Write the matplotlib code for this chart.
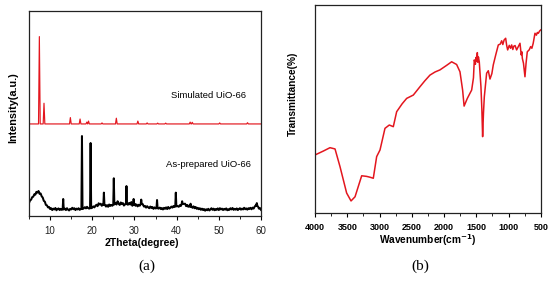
import numpy as np
import matplotlib
matplotlib.use('Agg')
import matplotlib.pyplot as plt
from matplotlib.ticker import MultipleLocator

# (a) XRD - simulated pattern: flat baseline plus peaks (2theta, intensity)
sim_base = 44.9
sim_pos = [7.45, 8.55, 14.8, 17.1, 18.7, 19.1, 22.3, 25.7, 30.8, 33.0, 35.5, 37.4, 43.2, 43.7, 50.2, 56.8]
sim_top = [87.5, 55.0, 48.0, 47.3, 45.8, 46.3, 45.4, 47.7, 46.3, 45.4, 45.3, 45.3, 45.8, 45.7, 45.4, 45.5]

# (a) XRD - as-prepared pattern: noisy background (2theta, intensity) ...
bg_points = [
    (5.0, 6.4), (5.25, 7.6), (5.5, 8.0), (5.75, 9.2), (6.0, 9.4), (6.25, 10.6), (6.5, 10.4),
    (6.75, 11.8), (7.0, 11.4), (7.25, 12.2), (7.5, 10.8), (7.75, 11.0), (8.0, 9.6), (8.25, 9.0),
    (8.5, 7.4), (8.75, 7.0), (9.0, 5.4), (9.25, 5.2), (9.5, 4.2), (9.75, 4.4), (10.0, 3.4),
    (10.25, 3.8), (10.5, 2.9), (10.75, 3.6), (11.0, 3.2), (11.25, 3.9), (11.5, 2.8), (11.75, 3.4),
    (12.0, 3.7), (12.25, 2.9), (12.5, 3.5), (12.75, 3.0), (13.5, 3.6), (13.75, 2.9), (14.0, 3.8),
    (14.25, 3.1), (14.5, 2.7), (14.75, 3.5), (15.0, 3.2), (15.25, 4.0), (15.5, 3.3), (15.75, 3.8),
    (16.0, 2.9), (16.25, 3.6), (16.5, 3.2), (16.75, 3.8), (17.0, 3.0), (17.25, 3.4), (17.9, 3.6),
    (18.25, 4.3), (18.5, 3.7), (18.75, 4.5), (19.0, 3.9), (19.25, 3.6), (19.95, 4.0), (20.25, 4.7),
    (20.5, 4.2), (20.75, 5.0), (21.0, 5.5), (21.25, 4.8), (21.5, 6.2), (21.75, 5.6), (22.0, 6.0),
    (22.25, 5.0), (22.5, 5.6), (23.1, 5.2), (23.25, 4.6), (23.5, 5.3), (23.75, 4.5), (24.0, 5.6),
    (24.25, 4.9), (24.5, 5.4), (24.75, 5.0), (25.45, 6.4), (25.75, 5.6), (26.0, 7.2), (26.25, 6.0),
    (26.5, 5.4), (26.75, 6.6), (27.0, 5.8), (27.25, 6.3), (27.5, 5.1), (27.75, 5.7), (28.45, 5.5),
    (28.75, 6.4), (29.0, 5.6), (29.25, 6.8), (29.5, 5.0), (30.1, 5.9), (30.25, 5.0), (30.5, 5.6),
    (30.75, 4.7), (31.0, 5.5), (31.25, 5.0), (31.95, 5.8), (32.25, 4.6), (32.5, 4.9), (32.75, 4.1),
    (33.0, 4.8), (33.25, 4.2), (33.5, 3.8), (33.75, 4.6), (34.0, 3.9), (34.25, 4.4), (34.5, 3.5),
    (34.75, 4.2), (35.0, 3.7), (35.7, 3.6), (36.0, 4.1), (36.25, 3.4), (36.5, 3.9), (36.75, 3.2),
    (37.0, 4.0), (37.25, 3.5), (37.5, 4.2), (37.75, 3.4), (38.0, 4.4), (38.25, 3.6), (38.5, 4.0),
    (38.75, 4.6), (39.0, 4.1), (39.25, 4.9), (39.5, 4.4), (40.15, 4.9), (40.5, 4.5), (40.75, 5.3),
    (41.0, 4.9), (41.65, 5.9), (42.0, 6.0), (42.25, 4.8), (42.5, 5.4), (42.75, 4.5), (43.0, 5.1),
    (43.6, 4.6), (43.75, 4.0), (44.0, 4.7), (44.25, 3.8), (44.5, 4.4), (44.75, 3.5), (45.0, 4.0),
    (45.25, 3.3), (45.5, 3.8), (45.75, 3.0), (46.0, 3.6), (46.25, 2.9), (46.5, 3.4), (46.75, 2.6),
    (47.0, 3.3), (47.25, 2.8), (47.5, 3.5), (47.75, 2.7), (48.0, 3.2), (48.25, 3.8), (48.5, 3.0),
    (48.75, 3.6), (49.0, 2.8), (49.25, 3.4), (49.5, 3.0), (49.75, 3.7), (50.0, 2.9), (50.25, 3.8),
    (50.5, 3.2), (50.75, 3.6), (51.0, 2.9), (51.25, 3.5), (51.5, 3.1), (51.75, 3.7), (52.0, 2.8),
    (52.25, 3.3), (52.5, 3.0), (52.75, 3.8), (53.0, 3.2), (53.25, 3.9), (53.5, 3.0), (53.75, 3.5),
    (54.0, 3.1), (54.25, 3.7), (54.5, 2.9), (54.75, 3.4), (55.0, 3.8), (55.25, 3.1), (55.5, 3.6),
    (55.75, 3.2), (56.0, 4.0), (56.25, 3.3), (56.5, 3.7), (56.75, 3.1), (57.0, 3.8), (57.25, 3.4),
    (57.5, 4.0), (57.75, 3.3), (58.0, 4.1), (58.25, 3.6), (58.5, 4.6), (58.75, 5.2), (59.35, 4.4),
    (59.5, 3.6), (59.75, 3.9), (60.0, 3.0),
]
# ... and its sharp reflections
exp_pos = [13.1, 17.55, 19.6, 22.75, 25.1, 28.1, 29.8, 31.6, 35.35, 39.8, 41.3, 43.3, 59.0]
exp_top = [8.3, 39.0, 35.6, 11.4, 18.4, 14.6, 8.3, 8.0, 7.8, 11.4, 7.2, 6.0, 6.3]
exp_base = [3.2, 3.4, 3.8, 5.4, 5.6, 5.8, 5.6, 5.8, 3.8, 4.7, 5.8, 4.5, 5.0]

# (b) FTIR
wn = [4000, 3870, 3768, 3690, 3613, 3510, 3442, 3380, 3277, 3200, 3148, 3097, 3045, 2993,
      2916, 2849, 2787, 2735, 2650, 2580, 2477, 2374, 2300, 2219, 2140, 2064, 1960, 1883,
      1806, 1754, 1713, 1690, 1640, 1600, 1573, 1545, 1532, 1515, 1505, 1496, 1485, 1478,
      1468, 1455, 1429, 1415, 1403, 1390, 1377, 1341, 1315, 1289, 1260, 1238, 1200, 1175,
      1160, 1130, 1108, 1090, 1070, 1046, 1030, 1015, 990, 970, 953, 935, 920, 900, 876, 850,
      824, 805, 795, 788, 770, 747, 730, 711, 680, 659, 640, 620, 592, 570, 555, 540, 520, 503]
trans = [27.9, 29.8, 31.4, 30.8, 22.3, 9.6, 5.8, 7.8, 17.9, 17.6, 17.2, 16.7, 27.1, 30.3,
         40.7, 42.3, 41.5, 48.7, 52.5, 55.1, 56.7, 60.7, 63.5, 66.3, 67.8, 68.8, 71.0, 72.7,
         71.4, 67.9, 59.1, 51.4, 55.1, 57.5, 59.1, 65.0, 73.6, 71.5, 74.8, 73.0, 77.1, 72.5,
         75.0, 72.7, 60.7, 50.0, 36.7, 48.0, 55.8, 67.2, 68.4, 64.4, 67.0, 71.2, 76.0, 79.0,
         80.8, 81.2, 82.8, 81.0, 83.2, 84.0, 80.5, 78.4, 80.6, 79.2, 80.8, 78.6, 80.2, 80.5,
         78.4, 80.0, 81.6, 76.0, 77.5, 74.4, 72.0, 65.5, 72.0, 77.5, 78.5, 80.0, 79.2, 81.5,
         86.4, 85.5, 86.8, 86.4, 87.5, 88.0]


def peak_line(base_x, base_y, pos, top, base, w):
    pts = list(zip(base_x, base_y))
    for p, t, b in zip(pos, top, base):
        pts += [(p - w, b), (p, t), (p + w, b)]
    pts.sort(key=lambda q: q[0])
    return [q[0] for q in pts], [q[1] for q in pts]


plt.rcParams['font.family'] = ['Liberation Sans', 'DejaVu Sans']

fig = plt.figure(figsize=(5.55, 2.84), dpi=100)
ax1 = fig.add_axes([0.0523, 0.2394, 0.418, 0.722])
ax2 = fig.add_axes([0.5676, 0.25, 0.407, 0.7324])

# simulated
sx, sy = peak_line([5, 60], [sim_base, sim_base], sim_pos, sim_top,
                   [sim_base] * len(sim_pos), 0.2)
ax1.plot(sx, sy, color='#e3161e', lw=0.85)
# as-prepared
bg_tt, bg_int = zip(*bg_points)
ex, ey = peak_line(bg_tt, bg_int, exp_pos, exp_top, exp_base, 0.13)
ax1.plot(ex, ey, color='black', lw=1.45)

ax1.set_xlim(5, 60)
ax1.set_ylim(0, 100)
ax1.xaxis.set_major_locator(MultipleLocator(10))
ax1.xaxis.set_minor_locator(MultipleLocator(5))
ax1.set_yticks([])
ax1.text(47.6, 59, 'Simulated UiO-66', ha='center', va='center', fontsize=6.8)
ax1.text(47.6, 25, 'As-prepared UiO-66', ha='center', va='center', fontsize=6.8)
ax1.set_xlabel('2Theta(degree)', fontsize=7.6, fontweight='bold')
ax1.set_ylabel('Intensity(a.u.)', fontsize=7.8, fontweight='bold')
ax1.xaxis.set_label_coords(0.486, -0.132)
ax1.yaxis.set_label_coords(-0.069, 0.53)
ax1.tick_params(axis='x', which='major', labelsize=7, pad=4, labelcolor='#222222')

ax2.plot(wn, trans, color='#e3161e', lw=1.1)
ax2.set_xlim(4000, 500)
ax2.set_ylim(0, 100)
ax2.xaxis.set_major_locator(MultipleLocator(500))
ax2.xaxis.set_minor_locator(MultipleLocator(250))
ax2.set_yticks([])
ax2.set_xlabel(r'Wavenumber(cm$^{\mathbf{-1}}$)', fontsize=7.3, fontweight='bold')
ax2.set_ylabel('Transmittance(%)', fontsize=7.3, fontweight='bold')
ax2.xaxis.set_label_coords(0.498, -0.13)
ax2.yaxis.set_label_coords(-0.097, 0.572)
ax2.tick_params(axis='x', which='major', labelsize=6.5, pad=4)
for lab in ax2.get_xticklabels():
    lab.set_fontweight('bold')

for ax in (ax1, ax2):
    ax.xaxis.label.set_va('center')
    ax.yaxis.label.set_va('center')
    ax.tick_params(axis='x', which='major', direction='out', length=3, width=0.8)
    ax.tick_params(axis='x', which='minor', direction='out', length=1.8, width=0.6)
    for s in ax.spines.values():
        s.set_linewidth(0.9)
        s.set_color('#222222')

fig.text(147 / 555, 1 - 266 / 284, '(a)', ha='center', va='center', fontsize=11,
         family='Liberation Serif')
fig.text(420 / 555, 1 - 266 / 284, '(b)', ha='center', va='center', fontsize=11,
         family='Liberation Serif')

fig.savefig('out.png', dpi=100)
